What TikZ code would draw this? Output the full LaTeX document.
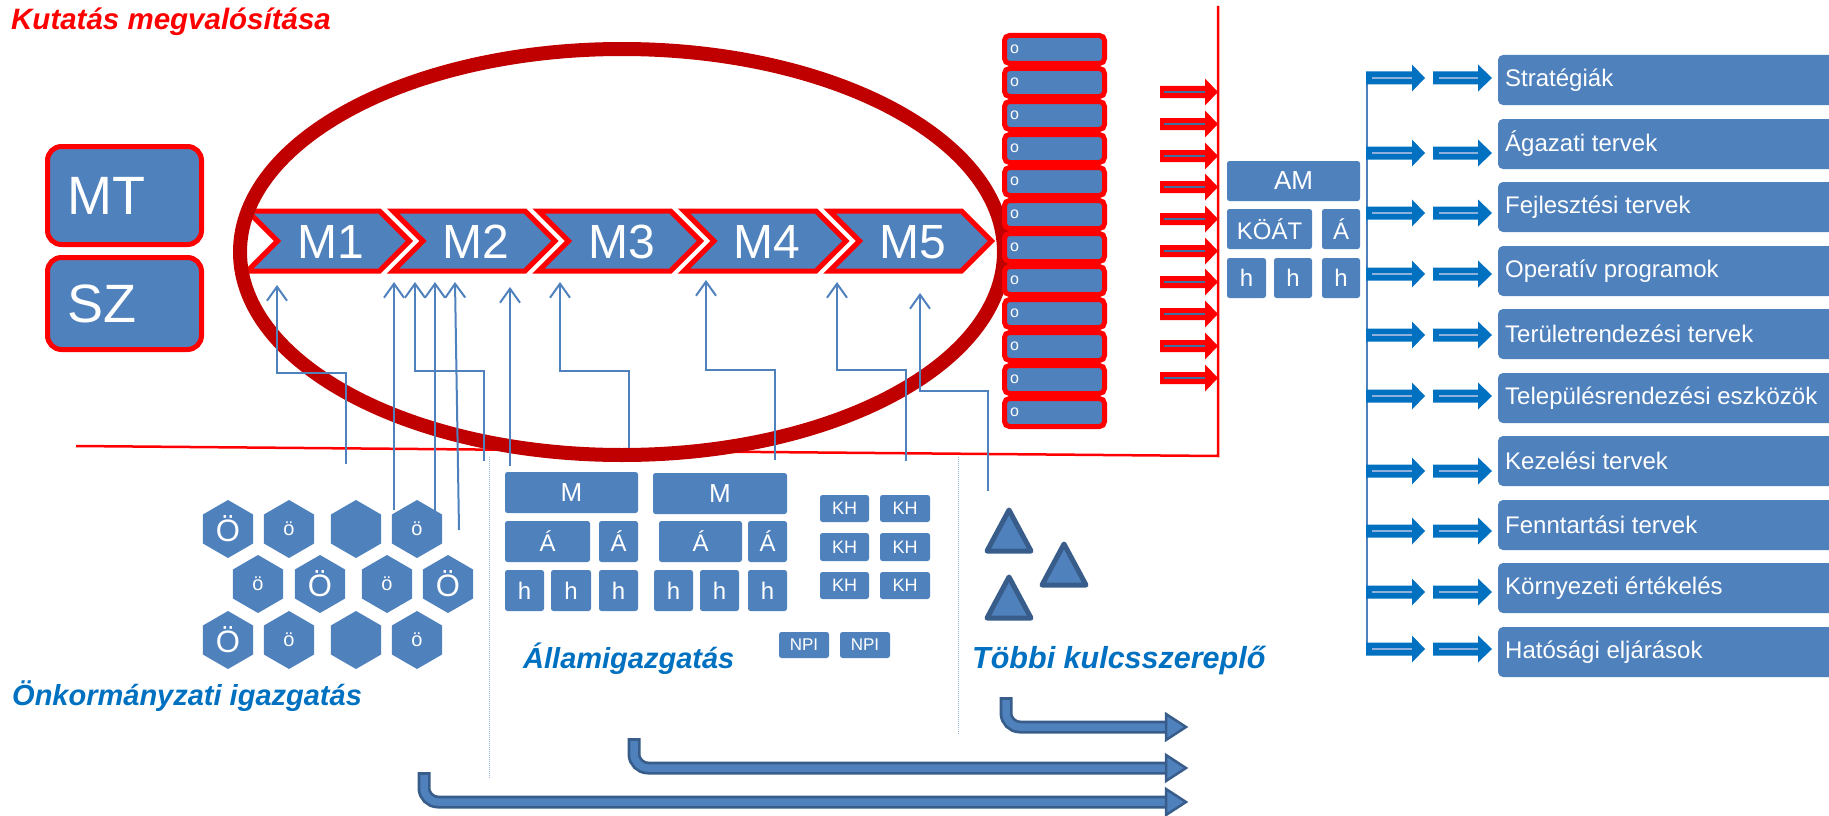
\documentclass[tikz,border=0pt]{standalone}
\usepackage{fontspec}
\setmainfont{Liberation Sans}
\usetikzlibrary{arrows.meta}
\definecolor{bfill}{HTML}{4F81BD}
\definecolor{rline}{HTML}{FF0000}
\definecolor{dred}{HTML}{C00000}
\definecolor{lblue}{HTML}{0070C0}
\definecolor{tdark}{HTML}{385D8A}
\definecolor{pale}{HTML}{8DB0DC}
\newcommand\fs[1]{\fontsize{#1}{#1}\selectfont}
\tikzset{
 bbox/.style={fill=bfill, rounded corners=2.5pt, text=white, inner sep=0pt},
 rbox/.style={fill=bfill, draw=rline, line width=5pt, rounded corners=14pt, text=white,
   inner xsep=20pt, align=left, font=\fs{54}},
 obox/.style={fill=bfill, draw=rline, line width=5pt, rounded corners=5pt,
   minimum width=100pt, minimum height=28pt, inner sep=0pt},
 chev/.style={fill=bfill, draw=rline, line width=5pt},
 conn/.style={draw=bfill, line width=2pt, -{Straight Barb[length=14pt,width=20pt]}},
 lbl/.style={text=lblue, font=\fs{29}\bfseries\itshape, anchor=base west, inner sep=0pt},
 wtext/.style={text=white, inner sep=0pt},
}
\newcommand\bx[7]{\node[bbox, font=\fs{#7}, minimum width={(#4-#2)*1pt}, minimum height={(#5-#3)*1pt}] (#1) at ({(#2+#4)/2},{(#3+#5)/2}) {#6};}
\newcommand\barrow[4]{% x0, head base, tip, y
 \fill[lblue] (#1,#4-6.5) -- (#2,#4-6.5) -- (#2,#4-13.5) -- (#3,#4) -- (#2,#4+13.5) -- (#2,#4+6.5) -- (#1,#4+6.5) -- cycle;
 \draw[pale, line width=1.3pt] (#1+6,#4) -- (#2,#4);}
\newcommand\bentarrow[3]{% x, ystart, yh
 \draw[tdark, line width=13pt, rounded corners=14pt] (#1,#2) -- (#1,#3) -- (1170,#3);
 \draw[bfill, line width=7.5pt, rounded corners=14pt] (#1,#2+3) -- (#1,#3) -- (1172,#3);
 \draw[tdark, line width=2.5pt, fill=bfill] (1166,#3-13) -- (1186,#3) -- (1166,#3+13) -- cycle;}
\begin{document}
\begin{tikzpicture}[x=1pt,y=-1pt]
\useasboundingbox (0,0) rectangle (1829,816);
\begin{scope}
\clip (0,0) rectangle (1829,816);
% title
\node[text=rline, font=\fs{29.5}\bfseries\itshape, anchor=base west, inner sep=0pt] (title) at (11,30) {Kutatás megvalósítása};
% red L frame
\draw[rline, line width=2.5pt] (76,446) -- (1218,456) -- (1218,6);
% MT / SZ
\node[rbox, minimum width=154pt, minimum height=98pt, text width=114pt] (mt) at (124.5,195.5) {MT};
\node[rbox, minimum width=154pt, minimum height=92pt, text width=114pt] (sz) at (124.5,303.5) {SZ};
% chevrons
\foreach \i/\t in {0/M1,1/M2,2/M3,3/M4,4/M5}{
 \pgfmathsetmacro\L{247.5+145.5*\i}
 \draw[chev] (\L,211) -- (\L+132,211) -- (\L+162,241) -- (\L+132,271) -- (\L,271) -- (\L+30,241) -- cycle;
 \node[wtext, font=\fs{48}] (chev\i) at (\L+83,242) {\t};
}
% ellipse
\draw[dred, line width=14pt] (622,252) ellipse [x radius=382pt, y radius=203pt];
% connectors
\draw[conn] (346,464) -- (346,373) -- (277,373) -- (277,285);
\draw[conn] (394,510) -- (394,282);
\draw[conn] (484,461) -- (484,371) -- (415,371) -- (415,282);
\draw[conn] (435,530) -- (435,282);
\draw[conn] (459,530) -- (455,282);
\draw[conn] (510,466) -- (510,287);
\draw[conn] (629,448) -- (629,371) -- (560,371) -- (560,282);
\draw[conn] (775,460) -- (775,370) -- (706,370) -- (706,280);
\draw[conn] (906,461) -- (906,370) -- (837,370) -- (837,282);
\draw[conn] (988,491) -- (988,391) -- (920,391) -- (920,293);
% o column
\foreach \i in {0,...,11}{
 \node[obox] (o\i) at (1054.5,49.5+33*\i) {};
 \node[wtext, font=\fs{16}, anchor=west] (ot\i) at (1010,49.5+33*\i) {o};
}
% red arrows
\foreach \y in {92,124,156,187,219,251,282,314,346,378}{
 \fill[rline] (1160,\y-6) -- (1205,\y-6) -- (1205,\y-13.5) -- (1218,\y) -- (1205,\y+13.5) -- (1205,\y+6) -- (1160,\y+6) -- cycle;
 \draw[bfill!85!black, line width=1.2pt] (1164,\y) -- (1205,\y);
}
% AM group
\bx{am}{1227}{161}{1360}{201}{AM}{26}
\bx{koat}{1227}{209}{1312}{249}{KÖÁT}{24}
\bx{ama}{1322}{209}{1360}{249}{Á}{24}
\bx{amh1}{1227}{258}{1266}{298}{h}{24}
\bx{amh2}{1274}{258}{1312}{298}{h}{24}
\bx{amh3}{1322}{258}{1360}{298}{h}{24}
% right list
\draw[bfill, line width=2pt] (1367,78) -- (1367,649);
\foreach \t/\y/\n [count=\k] in {55/78/Stratégiák,119/153/Ágazati tervek,182/213/Fejlesztési tervek,246/274/Operatív programok,309/335/Területrendezési tervek,373/396/Településrendezési eszközök,436/471/Kezelési tervek,500/531/Fenntartási tervek,563/592/Környezeti értékelés,627/649/Hatósági eljárások}{
 \node[bbox, rounded corners=5pt, minimum width=342pt, minimum height=50pt] (rb\k) at (1669,\t+25) {};
 \node[wtext, font=\fs{24}, anchor=west] (rt\k) at (1505,\t+25) {\n};
 \barrow{1366}{1412}{1425}{\y}
 \barrow{1433}{1478}{1492}{\y}
}
% hexagons
\foreach \cx/\cy/\t/\s [count=\k] in {228/529/Ö/31,289/529/ö/20,356/529//20,417/529/ö/20,258/584/ö/20,320/584/Ö/31,387/584/ö/20,448/584/Ö/31,228/640/Ö/31,289/640/ö/20,356/640//20,417/640/ö/20}{
 \fill[bfill] (\cx,\cy-29) -- (\cx+25.1,\cy-14.5) -- (\cx+25.1,\cy+14.5) -- (\cx,\cy+29) -- (\cx-25.1,\cy+14.5) -- (\cx-25.1,\cy-14.5) -- cycle;
 \node[wtext, font=\fs{\s}] (hx\k) at (\cx,\cy) {\t};
}
% state administration
\bx{sm1}{505}{472}{638}{513}{M}{26}
\bx{sm2}{653}{473}{787}{514}{M}{26}
\bx{sa1}{505}{521}{590}{562}{Á}{24}
\bx{sa2}{599}{521}{638}{562}{Á}{24}
\bx{sa3}{659}{521}{742}{562}{Á}{24}
\bx{sa4}{748}{521}{787}{562}{Á}{24}
\bx{sh1}{505}{570}{544}{611}{h}{24}
\bx{sh2}{551}{570}{591}{611}{h}{24}
\bx{sh3}{599}{570}{638}{611}{h}{24}
\bx{sh4}{654}{570}{693}{611}{h}{24}
\bx{sh5}{700}{570}{739}{611}{h}{24}
\bx{sh6}{748}{570}{787}{611}{h}{24}
% KH
\bx{kh1}{820}{495}{869}{522}{KH}{18}
\bx{kh2}{880}{495}{930}{522}{KH}{18}
\bx{kh3}{820}{533}{869}{561}{KH}{18}
\bx{kh4}{880}{533}{930}{561}{KH}{18}
\bx{kh5}{820}{572}{869}{599}{KH}{18}
\bx{kh6}{880}{572}{930}{599}{KH}{18}
% NPI
\bx{npi1}{779}{632}{829}{658}{NPI}{17}
\bx{npi2}{840}{632}{890}{658}{NPI}{17}
% triangles
\foreach \ax/\ay in {1009/510,1064/544,1009/577}{
 \draw[tdark, fill=bfill, line width=5pt, line join=round] (\ax,\ay) -- (\ax+22,\ay+41) -- (\ax-22,\ay+41) -- cycle;
}
% dotted separators
\draw[pale, line width=1pt, densely dotted] (489,457) -- (489,778);
\draw[pale, line width=1pt, densely dotted] (958,457) -- (958,735);
% labels
\node[lbl] (lonk) at (12,705) {Önkormányzati igazgatás};
\node[lbl] (lall) at (523,668) {Államigazgatás};
\node[lbl, font=\fs{30.5}\bfseries\itshape] (ltob) at (972,668) {Többi kulcsszereplő};
% bent arrows
\bentarrow{1006}{697}{727}
\bentarrow{634}{738}{768}
\bentarrow{424}{772}{802}
\end{scope}
\end{tikzpicture}
\end{document}
